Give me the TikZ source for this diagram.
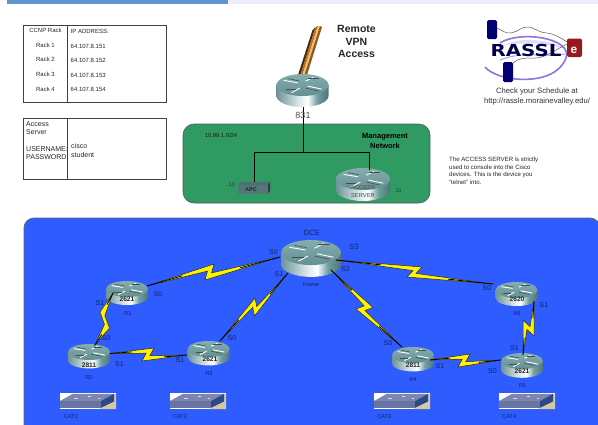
\documentclass[tikz,border=0pt]{standalone}
\usepackage{fontspec}
\setmainfont{Liberation Sans}
\newfontfamily\logofont{DejaVu Sans}
\usetikzlibrary{calc}
\definecolor{blueregion}{HTML}{2F5CFF}
\definecolor{greenregion}{HTML}{2F9A62}
\definecolor{labelink}{HTML}{13235A}
\definecolor{tealtop}{HTML}{6F9FA2}
\pgfdeclarehorizontalshading{routerbody}{100bp}{
 color(0bp)=(tealtop!60!black);
 color(22bp)=(tealtop!85!black);
 color(45bp)=(tealtop!30!white);
 color(55bp)=(white);
 color(64bp)=(tealtop);
 color(82bp)=(tealtop!55!black);
 color(100bp)=(tealtop!45!black)}
\newcommand{\fs}[1]{\fontsize{#1}{#1}\selectfont}
\tikzset{
 lab/.style={inner sep=0pt,font=\fs{7},text=labelink},
 small/.style={inner sep=0pt,font=\fs{6},text=black!85},
 tbl/.style={draw=black!75,line width=.7pt,fill=white},
 wire/.style={draw=black,line width=.8pt},
 boltfill/.style={fill=yellow,draw=black!85,line width=.5pt,line join=miter},
 boltcore/.style={draw=black,line width=.8pt,line cap=round},
 rarrow/.style={draw=white,line width=.9pt},
 rarrowd/.style={draw=black!70,line width=.6pt},
}
% name, cx, cy of top ellipse, rx, ry, body height in ry units
\newcommand{\rtr}[6]{%
 \coordinate (#1) at (#2,#3);
 \begin{scope}[shift={(#2,#3)},x=#4pt,y=-#5pt]
  \pgfmathsetmacro{\hA}{#6+.5523}\pgfmathsetmacro{\hB}{#6+1}
  \shade[shading=routerbody] (-1,0) -- (-1,#6) .. controls (-1,\hA) and (-.5523,\hB) .. (0,\hB) .. controls (.5523,\hB) and (1,\hA) .. (1,#6) -- (1,0) -- cycle;
  \shade[top color=tealtop!85!white,bottom color=tealtop!90!black] (0,0) circle[radius=1];
  \draw[rarrow] (-.72,-.42) -- (-.18,-.2);
  \draw[rarrowd] (-.55,-.58) -- (-.15,-.38);
  \draw[rarrow] (.12,-.35) -- (.42,-.72);
  \draw[rarrowd] (.22,-.62) -- (.62,-.62);
  \draw[rarrow] (-.42,.7) -- (-.1,.28);
  \draw[rarrowd] (-.62,.42) -- (-.25,.42);
  \draw[rarrow] (.2,.1) -- (.75,.38);
  \draw[rarrowd] (.12,.28) -- (.62,.55);
 \end{scope}}
% start, end, peak Q, peak R
\newcommand{\bolt}[4]{%
 \coordinate (bnA) at ($(#3)!.4!(#4)!3pt!(#1)$);
 \coordinate (bnB) at ($(#3)!.6!(#4)!3pt!(#2)$);
 \filldraw[boltfill] (#1) -- (#3) -- (bnB) -- (#2) -- (#4) -- (bnA) -- cycle;
 \coordinate (bmA) at ($(#3)!.5!(bnA)$);
 \coordinate (bmB) at ($(#4)!.5!(bnB)$);
 \draw[boltcore] (#1) -- ($(#1)!.55!(bmA)$);
 \draw[boltcore] (#2) -- ($(#2)!.55!(bmB)$);}
\definecolor{swtop}{HTML}{7C86AE}
\definecolor{swfront}{HTML}{6A74A0}
\definecolor{swside}{HTML}{2B4A85}
\definecolor{swtan}{HTML}{D8C8A0}
\newcommand{\switch}[3]{%
 \begin{scope}[shift={(#2,#3)}]
  \node[coordinate] (#1) at (0,0) {};
  \fill[white] (0,0) rectangle (56,16);
  \fill[swtan] (40,16) -- (56,16) -- (56,1) -- (54,1) -- (54,9) -- (40,15) -- cycle;
  \fill[swtop] (0,8) -- (13,.8) -- (54,.8) -- (41,8) -- cycle;
  \fill[swfront] (0,8) rectangle (41,14.8);
  \fill[swside] (41,8) -- (54,.8) -- (54,8.6) -- (41,14.8) -- cycle;
  \draw[white!85!blue,line width=.5pt] (14,5) -- (18,5) (28,3) -- (31,3) (38,5) -- (40,5);
 \end{scope}}
\begin{document}
\begin{tikzpicture}[x=1pt,y=-1pt]
\useasboundingbox (0,0) rectangle (598,424);
\clip (0,0) rectangle (598,424);
\fill[white] (0,0) rectangle (598,424);
% top bar
\fill[blue!7!white] (228,0) rectangle (598,3.5);
\definecolor{barblue}{HTML}{5F95CC}
\fill[barblue] (7,0) rectangle (228,3.5);
% tables
\draw[tbl] (23.7,25.3) rectangle (166.5,102.2);
\draw[tbl] (67.7,25.3) -- (67.7,102.2);
\draw[tbl] (23.7,118.5) rectangle (166.5,179.2);
\draw[tbl] (67.7,118.5) -- (67.7,179.2);
\node[small] (t1) at (45.5,30.5) {CCNP Rack};
\node[small] (t2) at (45.5,45) {Rack 1};
\node[small] (t3) at (45.5,59.7) {Rack 2};
\node[small] (t4) at (45.5,74.3) {Rack 3};
\node[small] (t5) at (45.5,89) {Rack 4};
\node[small,anchor=west] (t6) at (70.5,31.5) {IP ADDRESS:};
\node[small,anchor=west] (t7) at (70.5,46) {64.107.8.151};
\node[small,anchor=west] (t8) at (70.5,60.5) {64.107.8.152};
\node[small,anchor=west] (t9) at (70.5,75.3) {64.107.8.153};
\node[small,anchor=west] (t10) at (70.5,89.5) {64.107.8.154};
\node[small,font=\fs{7},anchor=west] (t11) at (26,124) {Access};
\node[small,font=\fs{7},anchor=west] (t12) at (26,132) {Server};
\node[small,font=\fs{7},anchor=west] (t13) at (26,149) {USERNAME:};
\node[small,font=\fs{7},anchor=west] (t14) at (26,157) {PASSWORD:};
\node[small,font=\fs{7},anchor=west] (t15) at (71,146) {cisco};
\node[small,font=\fs{7},anchor=west] (t16) at (71,155) {student};
% regions
\filldraw[fill=greenregion,draw=black!65,line width=.6pt,rounded corners=11pt] (183,124) rectangle (430,203);
\filldraw[fill=blueregion,draw=black!60,line width=.8pt,rounded corners=10pt] (24,218) rectangle (600,440);
% VPN tube
\definecolor{tubea}{HTML}{4A2A10}
\definecolor{tubeb}{HTML}{B87020}
\definecolor{tubec}{HTML}{F0C060}
\definecolor{tubed}{HTML}{8A5A28}
\fill[tubea] (298,75) -- (312.5,30) -- (315.5,27) -- (300.5,75) -- cycle;
\fill[tubeb] (300.5,75) -- (315.5,27) -- (318,26) -- (302.5,75) -- cycle;
\fill[tubec] (302.5,75) -- (318,26) -- (320,26) -- (304.5,75) -- cycle;
\fill[tubed] (304.5,75) -- (320,26) -- (322,27) -- (307,75) -- cycle;
\rtr{r831}{302.5}{85}{26}{11}{1}
\rtr{rac}{363}{179}{27}{11}{1}
% management network wiring
\coordinate (vpn) at (303,107);
\coordinate (junc) at (303,152);
\coordinate (jleft) at (254.5,152);
\coordinate (jright) at (369,152);
\coordinate (apctop) at (254.5,183);
\coordinate (astop) at (369,170);
\draw[wire] (vpn) -- (junc) (apctop) -- (jleft) -- (jright) -- (astop);
\node[inner sep=0pt,font=\fs{9},text=black!70] (l831) at (303,115.7) {831};
\node[small,font=\fs{5.8},text=black!70] (ac1) at (363,187.5) {ACCESS};
\node[small,font=\fs{5.8},text=black!70] (ac2) at (363,195) {SERVER};
% APC
\fill[tealtop!70!black] (238,185) -- (240,182) -- (270,182) -- (268,185) -- cycle;
\fill[tealtop!75!black] (238,185) rectangle (268,193.5);
\fill[tealtop!40!black] (268,185) -- (270,182) -- (270,191) -- (268,193.5) -- cycle;
\node[inner sep=0pt,font=\bfseries\fs{5.5},text=black!85] (apc) at (251,189.5) {APC};
\node[small,font=\fs{5.5},text=black!80] (d13) at (231,185) {.13};
\node[small,font=\fs{5.5},text=black!80] (d11) at (398,190.5) {.11};
\node[small,font=\fs{5.8},text=black!90] (net) at (221,135) {10.99.1.0/24};
\node[inner sep=0pt,font=\bfseries\fs{7.5},text=black,align=center] (mg1) at (385,136.8) {Management};
\node[inner sep=0pt,font=\bfseries\fs{7.5},text=black] (mg2) at (385,145.8) {Network};
\node[inner sep=0pt,font=\bfseries\fs{10.5},text=black!85] (rv1) at (356.5,28.7) {Remote};
\node[inner sep=0pt,font=\bfseries\fs{10.5},text=black!85] (rv2) at (356.5,41.5) {VPN};
\node[inner sep=0pt,font=\bfseries\fs{10.5},text=black!85] (rv3) at (356.5,54.3) {Access};
% note
\node[small,font=\fs{6.1},anchor=west] (n1) at (449,160) {The ACCESS SERVER is strictly};
\node[small,font=\fs{6.1},anchor=west] (n2) at (449,167.5) {used to console into the Cisco};
\node[small,font=\fs{6.1},anchor=west] (n3) at (449,175) {devices.  This is the device you};
\node[small,font=\fs{6.1},anchor=west] (n4) at (449,182.5) {"telnet" into.};
% RASSL logo
\fill[blue!60!violet!14!white] (503,46) .. controls (515,37) and (548,38) .. (565,49) .. controls (545,42) and (520,42) .. (503,46) -- cycle;
\draw[blue!60!violet!55!white,line width=1.6pt] (485,67) .. controls (497,82) and (555,88) .. (566,58) .. controls (573,38) and (520,30) .. (500,43);
\draw[blue!60!violet!35!white,line width=1.1pt] (500,60) .. controls (525,50) and (545,58) .. (565,54);
\draw[black!65,line width=.5pt] (496,28) .. controls (503,30) and (505,34) .. (511,33) .. controls (518,32) and (522,26) .. (529,27) .. controls (537,29) and (540,33) .. (547,33) .. controls (555,34) and (561,38) .. (567,42);
\draw[black!65,line width=.5pt] (567,44) .. controls (555,50) and (545,58) .. (535,58) .. controls (525,58) and (518,58) .. (513,63);
\fill[blue!45!black,rounded corners=1.5pt] (487,20) rectangle (497,39);
\fill[blue!45!black,rounded corners=1.5pt] (503,62) rectangle (513,82);
\fill[red!55!black!90,rounded corners=2pt] (567,38.5) rectangle (582,57);
\node[inner sep=0pt,font=\logofont\bfseries\fs{16.5},text=blue!30!black] (rassl) at (526,50.5) {\scalebox{1.2}[1]{RASSL}};
\node[inner sep=0pt,font=\bfseries\fs{12},text=white] (rasse) at (574,50) {e};
\node[inner sep=0pt,font=\fs{7.7},text=black!80] (sc1) at (537,92) {Check your Schedule at};
\node[inner sep=0pt,font=\fs{7.7},text=black!80] (sc2) at (537,102) {http://rassle.morainevalley.edu/};
% routers
\rtr{fr}{311}{252.5}{30}{12.5}{.95}
\rtr{r1}{127}{289}{21}{8}{1}
\rtr{r2}{89}{352}{21}{8}{1.05}
\rtr{r3}{208.7}{349}{21}{8}{1.05}
\rtr{r6}{516.5}{290}{21}{8}{1}
\rtr{r4}{413}{355}{21}{8}{1.05}
\rtr{r5}{522}{361}{21}{8}{1.1}
% connector end points
\coordinate (r1a) at (147,286);
\coordinate (fra) at (280,257);
\coordinate (r1b) at (113,293);
\coordinate (r2a) at (95,345);
\coordinate (r2b) at (110,353.5);
\coordinate (r3a) at (187,355);
\coordinate (r3b) at (220,341);
\coordinate (frb) at (288,273);
\coordinate (frc) at (331,270);
\coordinate (r4a) at (402,347);
\coordinate (frd) at (336,260);
\coordinate (r6a) at (493,284);
\coordinate (r6b) at (534,301);
\coordinate (r5a) at (523,355);
\coordinate (r4b) at (430,360);
\coordinate (r5b) at (501,360);
\bolt{r1a}{fra}{214,264}{205,280}
\bolt{r1b}{r2a}{100,312}{109.5,328}
\bolt{r2b}{r3a}{154,348}{142,361}
\bolt{r3b}{frb}{255,298}{254.5,316}
\bolt{frc}{r4a}{373,307.5}{356,309}
\bolt{frd}{r6a}{422,267}{407,277}
\bolt{r6b}{r5a}{534,336}{523,320}
\bolt{r4b}{r5b}{470,354}{458,367}
% router labels
\tikzset{model/.style={inner sep=0pt,font=\bfseries\fs{6.6},text=black!85}}
\node[model] (m1) at (127,299) {2621};
\node[model] (m2) at (89,365) {2811};
\node[model] (m3) at (210,359.5) {2621};
\node[model] (m6) at (517,299.5) {2620};
\node[model] (m4) at (413,365) {2811};
\node[model] (m5) at (522,371) {2621};
% interface labels
\node[lab] (a1) at (273.5,252) {S0};
\node[lab] (a2) at (279,274) {S1};
\node[lab] (a3) at (158,294) {S0};
\node[lab] (a4) at (100,303.5) {S1};
\node[lab] (a5) at (106,338) {S0};
\node[lab] (a6) at (119.5,364) {S1};
\node[lab] (a7) at (180,360) {S1};
\node[lab] (a8) at (232,338) {S0};
\node[lab,font=\fs{7.8}] (a9) at (354,247) {S3};
\node[lab] (a10) at (345.5,269.5) {S2};
\node[lab] (a11) at (487,288) {S0};
\node[lab] (a12) at (544,305) {S1};
\node[lab] (a13) at (514.5,348) {S1};
\node[lab] (a14) at (388,343.5) {S0};
\node[lab] (a15) at (440,366.5) {S1};
\node[lab] (a16) at (492.5,371) {S0};
\node[lab,font=\fs{7.6}] (dce) at (312,233) {DCE};
\tikzset{rname/.style={lab,font=\fs{5.6}}}
\node[rname] (n0) at (311,284.5) {Frame};
\node[rname] (nr1) at (127.8,314) {R1};
\node[rname] (nr2) at (89,377.5) {R2};
\node[rname] (nr3) at (209,374) {R3};
\node[rname] (nr4) at (413,380) {R4};
\node[rname] (nr5) at (522.5,385.5) {R5};
\node[rname] (nr6) at (517,314) {R6};
% switches
\switch{c1}{60}{393}
\switch{c2}{170}{393}
\switch{c3}{374}{393}
\switch{c4}{499}{393}
\node[rname] (cn1) at (71,416.5) {CAT1};
\node[rname] (cn2) at (180,416.5) {CAT2};
\node[rname] (cn3) at (384.3,416.5) {CAT3};
\node[rname] (cn4) at (509.3,416.5) {CAT4};
\end{tikzpicture}
\end{document}
